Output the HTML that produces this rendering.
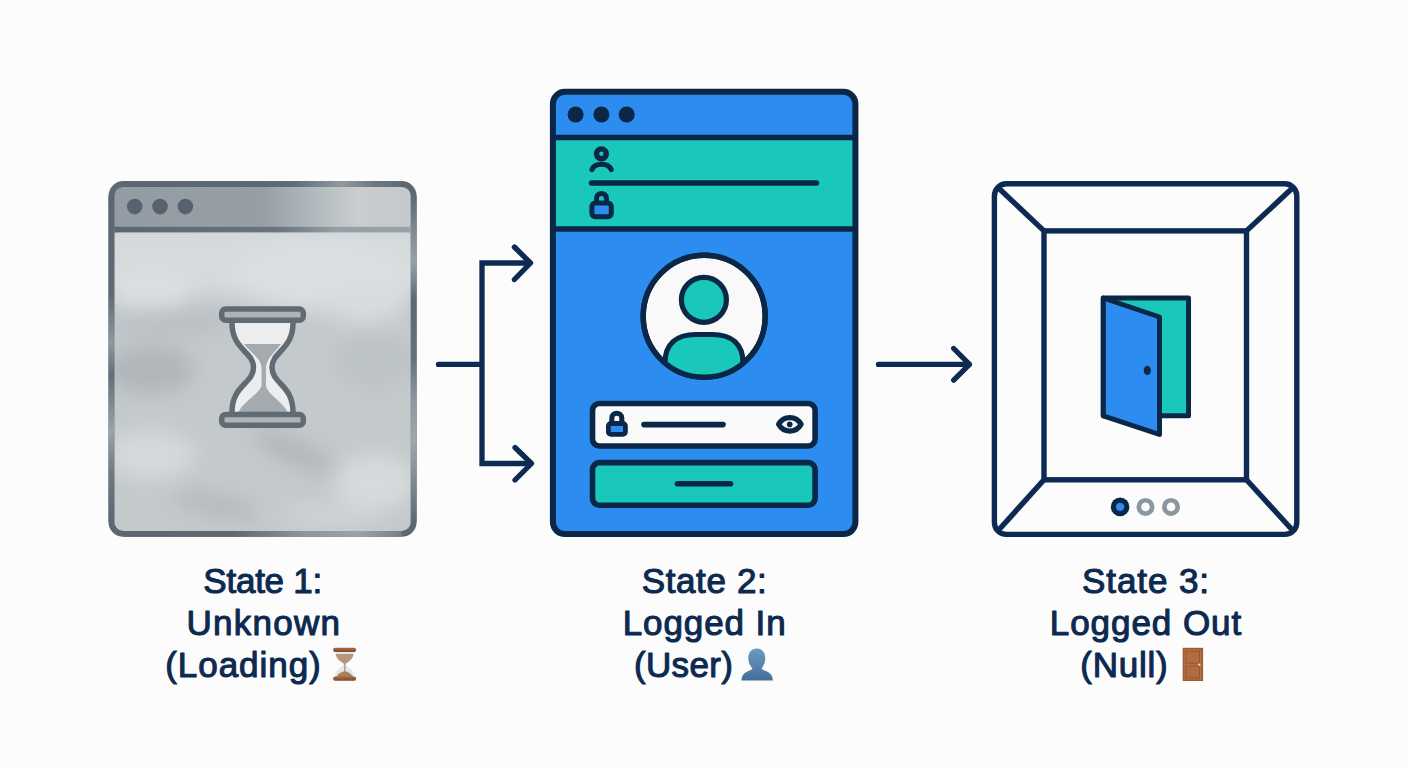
<!DOCTYPE html>
<html><head><meta charset="utf-8">
<style>
html,body{margin:0;padding:0;background:#fcfcfc;width:1408px;height:768px;overflow:hidden}
svg{display:block}
text{font-family:"Liberation Sans",sans-serif}
</style></head>
<body>
<svg width="1408" height="768" viewBox="0 0 1408 768">
<defs>
  <linearGradient id="gHead" x1="0" y1="0" x2="1" y2="0">
    <stop offset="0" stop-color="#939ca2"/>
    <stop offset="0.5" stop-color="#979fa5"/>
    <stop offset="0.7" stop-color="#b7bec2"/>
    <stop offset="0.82" stop-color="#c8cdd0"/>
    <stop offset="1" stop-color="#c3c9cc"/>
  </linearGradient>
  <linearGradient id="gBody" x1="0" y1="0" x2="0" y2="1">
    <stop offset="0" stop-color="#d2d6d8"/>
    <stop offset="0.5" stop-color="#c2c7ca"/>
    <stop offset="1" stop-color="#c6cbce"/>
  </linearGradient>
  <linearGradient id="gBorder" x1="0" y1="0" x2="1" y2="1">
    <stop offset="0" stop-color="#5a6570"/>
    <stop offset="0.3" stop-color="#65707a"/>
    <stop offset="0.45" stop-color="#8a949b"/>
    <stop offset="0.55" stop-color="#5f6a74"/>
    <stop offset="1" stop-color="#5d6873"/>
  </linearGradient>
  <linearGradient id="gDiv" x1="0" y1="0" x2="1" y2="0">
    <stop offset="0" stop-color="#5b6671"/>
    <stop offset="0.55" stop-color="#6a747d"/>
    <stop offset="0.75" stop-color="#97a0a6"/>
    <stop offset="1" stop-color="#9aa3a9"/>
  </linearGradient>
  <linearGradient id="gRB" gradientUnits="userSpaceOnUse" x1="0" y1="196" x2="0" y2="522">
    <stop offset="0" stop-color="#5e6973"/>
    <stop offset="0.1" stop-color="#7d878f"/>
    <stop offset="0.2" stop-color="#98a1a7"/>
    <stop offset="0.32" stop-color="#5d6873"/>
    <stop offset="0.5" stop-color="#66717a"/>
    <stop offset="0.62" stop-color="#8c959c"/>
    <stop offset="0.75" stop-color="#a0a8ae"/>
    <stop offset="0.88" stop-color="#7f8990"/>
    <stop offset="1" stop-color="#5e6973"/>
  </linearGradient>
  <linearGradient id="gLB" gradientUnits="userSpaceOnUse" x1="0" y1="196" x2="0" y2="522">
    <stop offset="0" stop-color="#5b6671"/>
    <stop offset="0.3" stop-color="#5f6a74"/>
    <stop offset="0.45" stop-color="#8e979e"/>
    <stop offset="0.55" stop-color="#636e78"/>
    <stop offset="0.72" stop-color="#9aa3a9"/>
    <stop offset="0.85" stop-color="#6f7982"/>
    <stop offset="1" stop-color="#5b6671"/>
  </linearGradient>
  <linearGradient id="gTB" gradientUnits="userSpaceOnUse" x1="123.4" y1="0" x2="401.7" y2="0">
    <stop offset="0" stop-color="#5b6671"/>
    <stop offset="0.6" stop-color="#5f6a74"/>
    <stop offset="0.78" stop-color="#8f989f"/>
    <stop offset="0.9" stop-color="#6f7982"/>
    <stop offset="1" stop-color="#5f6a74"/>
  </linearGradient>
  <linearGradient id="gBB" gradientUnits="userSpaceOnUse" x1="123.4" y1="0" x2="401.7" y2="0">
    <stop offset="0" stop-color="#5b6671"/>
    <stop offset="0.4" stop-color="#5e6973"/>
    <stop offset="0.65" stop-color="#8d969d"/>
    <stop offset="0.85" stop-color="#9aa3a9"/>
    <stop offset="1" stop-color="#76808a"/>
  </linearGradient>
  <filter id="blur12" x="-50%" y="-50%" width="200%" height="200%"><feGaussianBlur stdDeviation="10"/></filter>
  <clipPath id="c1body"><rect x="114" y="232" width="297" height="299" rx="6"/></clipPath>
  <clipPath id="avClip"><circle cx="704.2" cy="316.2" r="60"/></clipPath>
</defs>

<!-- ============ CARD 1 (gray) ============ -->
<rect x="111.4" y="184" width="302.3" height="349.9" rx="12" fill="#c4c9cc"/>
<g clip-path="url(#c1body)">
 <g filter="url(#blur12)">
  <rect x="100" y="225" width="330" height="70" fill="#d6dadc"/>
  <ellipse cx="320" cy="275" rx="90" ry="35" fill="#dbdfe1"/>
  <ellipse cx="150" cy="290" rx="40" ry="22" fill="#dcdfe1"/>
  <ellipse cx="365" cy="305" rx="40" ry="18" fill="#d8dcde"/>
  <ellipse cx="170" cy="322" rx="60" ry="14" fill="#b9bfc3"/>
  <ellipse cx="150" cy="370" rx="45" ry="24" fill="#b0b6ba"/>
  <ellipse cx="375" cy="360" rx="40" ry="28" fill="#bcc2c5"/>
  <ellipse cx="150" cy="455" rx="45" ry="24" fill="#d5d9db"/>
  <ellipse cx="375" cy="482" rx="40" ry="28" fill="#d6dadc"/>
  <ellipse cx="295" cy="452" rx="45" ry="12" fill="#b0b6ba" transform="rotate(25 295 452)"/>
  <ellipse cx="215" cy="505" rx="45" ry="11" fill="#b3b9bd" transform="rotate(12 215 505)"/>
  <ellipse cx="330" cy="515" rx="50" ry="12" fill="#cfd3d6"/>
 </g>
</g>
<rect x="113" y="186" width="299" height="43" fill="url(#gHead)"/>
<rect x="111.4" y="184" width="302.3" height="349.9" rx="12" fill="none" stroke="#5d6873" stroke-width="5.8"/>
<line x1="413.7" y1="196" x2="413.7" y2="522" stroke="url(#gRB)" stroke-width="5.8"/>
<line x1="111.4" y1="196" x2="111.4" y2="522" stroke="url(#gLB)" stroke-width="5.8"/>
<line x1="123.4" y1="184" x2="401.7" y2="184" stroke="url(#gTB)" stroke-width="5.8"/>
<line x1="123.4" y1="533.9" x2="401.7" y2="533.9" stroke="url(#gBB)" stroke-width="5.8"/>
<rect x="114.3" y="226.8" width="296.5" height="5.6" fill="url(#gDiv)"/>
<circle cx="134.7" cy="206.6" r="7.8" fill="#56636e"/>
<circle cx="160" cy="206.6" r="7.8" fill="#56636e"/>
<circle cx="185.4" cy="206.6" r="7.8" fill="#56636e"/>
<!-- hourglass -->
<path d="M232 321 C231 350 253.5 351 253.5 367.5 C253.5 384 231 385 232 414 L293 414 C294 385 272 384 272 367.5 C272 351 294 350 293 321 Z" fill="#ebedee"/>
<path d="M244 344 H281 C275 352 267 358 266 367 V386 C268 395 282 401 287.5 412 H238.5 C244 401 258 395 261.5 386 V367 C260.5 358 250 352 244 344 Z" fill="#a4aaae"/>
<g stroke="#616b74" stroke-width="5.5" stroke-linejoin="round" fill="none">
  <path d="M232 321 C231 350 253.5 351 253.5 367.5 C253.5 384 231 385 232 414 M293 414 C294 385 272 384 272 367.5 C272 351 294 350 293 321"/>
  <rect x="221.7" y="309" width="81.6" height="11.2" rx="4" fill="#aeb4b8"/>
  <rect x="221.7" y="414.5" width="81.6" height="10.8" rx="4" fill="#aeb4b8"/>
</g>

<!-- ============ CARD 2 (blue) ============ -->
<rect x="552.9" y="91.8" width="302.5" height="442.3" rx="12" fill="#2c8cf0"/>
<rect x="555" y="139" width="298" height="88" fill="#19c8bb"/>
<rect x="552.9" y="91.8" width="302.5" height="442.3" rx="12" fill="none" stroke="#0b2748" stroke-width="6"/>
<line x1="552.9" y1="137.5" x2="855.4" y2="137.5" stroke="#0b2748" stroke-width="5.5"/>
<line x1="552.9" y1="229" x2="855.4" y2="229" stroke="#0b2748" stroke-width="5.5"/>
<circle cx="575.6" cy="114.5" r="8" fill="#0b2748"/>
<circle cx="601.4" cy="114.5" r="8" fill="#0b2748"/>
<circle cx="626.7" cy="114.5" r="8" fill="#0b2748"/>
<!-- small user icon -->
<g fill="none" stroke="#0b2748" stroke-linecap="round">
  <circle cx="601.4" cy="153.8" r="4.9" stroke-width="5.4"/>
  <path d="M591.9 169.6 C594.5 162.3 608.5 162.3 611.2 169.6" stroke-width="5"/>
</g>
<line x1="591.5" y1="183" x2="816.5" y2="183" stroke="#0b2748" stroke-width="5.5" stroke-linecap="round"/>
<!-- small lock -->
<g stroke="#0b2748" stroke-width="5" stroke-linejoin="round">
  <path d="M596.5 203 V198.5 C596.5 191.8 606.5 191.8 606.5 198.5 V203" fill="none"/>
  <rect x="591.9" y="202.9" width="19.4" height="13.8" rx="3.5" fill="#2c8cf0"/>
</g>
<!-- avatar -->
<circle cx="704.2" cy="316.2" r="61" fill="#f9f9f9" stroke="#0b2748" stroke-width="5.4"/>
<g clip-path="url(#avClip)">
  <path d="M665 400 V363 C665 344 676 334.5 696 334.5 H712 C732 334.5 743 344 743 363 V400 Z" fill="#19c8bb" stroke="#0b2748" stroke-width="5.2"/>
</g>
<circle cx="704.2" cy="316.2" r="61" fill="none" stroke="#0b2748" stroke-width="5.4"/>
<circle cx="703.9" cy="299.8" r="22.5" fill="#19c8bb" stroke="#0b2748" stroke-width="5.2"/>
<!-- password field -->
<rect x="592.5" y="403.5" width="222.6" height="42.5" rx="7" fill="#fafafa" stroke="#0b2748" stroke-width="5.6"/>
<g stroke="#0b2748" stroke-width="4" stroke-linejoin="round">
  <path d="M611.8 423 V418 C611.8 411.8 621.8 411.8 621.8 418 V423" fill="none" stroke-width="5"/>
  <rect x="608.4" y="423.5" width="17" height="10.9" rx="2.5" fill="#2c8cf0" stroke-width="4.8"/>
</g>
<line x1="644" y1="424.6" x2="723" y2="424.6" stroke="#0b2748" stroke-width="5.6" stroke-linecap="round"/>
<path d="M778.6 424.3 C783.5 415.3 796.2 415.3 801.1 424.3 C796.2 433.3 783.5 433.3 778.6 424.3 Z" fill="#fafafa" stroke="#0b2748" stroke-width="5.3" stroke-linejoin="round"/>
<circle cx="789.7" cy="424.4" r="2.8" fill="#0b2748"/>
<!-- button -->
<rect x="592.5" y="462.6" width="222.6" height="42.6" rx="7" fill="#19c8bb" stroke="#0b2748" stroke-width="5.6"/>
<line x1="677.5" y1="483.7" x2="730.5" y2="483.7" stroke="#0b2748" stroke-width="5.6" stroke-linecap="round"/>

<!-- ============ CARD 3 (outline) ============ -->
<g fill="none" stroke="#0c2a52" stroke-width="5.4">
  <rect x="994.4" y="183.8" width="302.4" height="350.6" rx="12"/>
  <rect x="1044" y="230.9" width="202.5" height="248.9"/>
  <line x1="998" y1="187.5" x2="1044" y2="230.9"/>
  <line x1="1293" y1="187.5" x2="1246.5" y2="230.9"/>
  <line x1="998" y1="530.8" x2="1044" y2="479.8"/>
  <line x1="1293" y1="530.8" x2="1246.5" y2="479.8"/>
</g>
<!-- door -->
<g stroke="#0b2748" stroke-width="5" stroke-linejoin="round">
  <rect x="1103.3" y="297.9" width="85.2" height="117.9" fill="#19c8bb"/>
  <path d="M1103.3 298 L1159.5 317 L1159.5 434.5 L1103.3 415.8 Z" fill="#2c8cf0"/>
</g>
<ellipse cx="1147.3" cy="370.4" rx="3.6" ry="4.6" fill="#0b2748"/>
<circle cx="1120.1" cy="506.9" r="9.3" fill="#0b2748"/>
<circle cx="1120.1" cy="506.9" r="4.2" fill="#2c8cf0"/>
<circle cx="1145.5" cy="506.9" r="6.65" fill="none" stroke="#8a97a1" stroke-width="4.7"/>
<circle cx="1171" cy="506.9" r="6.65" fill="none" stroke="#8a97a1" stroke-width="4.7"/>

<!-- ============ ARROWS ============ -->
<g fill="none" stroke="#0c2a52" stroke-width="5.3" stroke-linecap="round" stroke-linejoin="round">
  <path d="M438.5 364.4 H480" />
  <path d="M530 263 H482 V463.5 H531" stroke-linejoin="miter" stroke-linecap="butt"/>
  <path d="M514.4 247 L530.5 263 L514.4 279.5"/>
  <path d="M515 447.5 L531.5 463.5 L515 480"/>
  <path d="M878.5 364.4 H969"/>
  <path d="M953.7 348.5 L969.5 364.4 L953.7 380.2"/>
</g>

<!-- ============ LABELS ============ -->
<g fill="#0c2a50" stroke="#0c2a50" stroke-width="1.1" stroke-linejoin="round" font-size="35" text-anchor="middle" lengthAdjust="spacing">
  <text x="262.8" y="593.1" textLength="119">State 1:</text>
  <text x="263.2" y="634.7" textLength="153.5">Unknown</text>
  <text x="243" y="676.6" textLength="155.5">(Loading)</text>
  <text x="704.2" y="593.1" textLength="125">State 2:</text>
  <text x="704.2" y="634.7" textLength="163">Logged In</text>
  <text x="683.4" y="676.6" textLength="99">(User)</text>
  <text x="1145.6" y="593.1" textLength="127">State 3:</text>
  <text x="1145.5" y="634.7" textLength="191.5">Logged Out</text>
  <text x="1124" y="676.6" textLength="87.5">(Null)</text>
</g>
<!-- emoji hourglass -->
<defs><linearGradient id="gCap" x1="0" y1="0" x2="0" y2="1"><stop offset="0" stop-color="#a46d45"/><stop offset="1" stop-color="#7e4a2a"/></linearGradient></defs>
<g>
  <path d="M335.3 651.5 C334.3 659 341 662 344 664.8 C341 667.5 334.3 670.5 335.3 677 L354 677 C355 670.5 348.5 667.5 345.5 664.8 C348.5 662 355 659 354 651.5 Z" fill="#e3e6ea"/>
  <path d="M336 654 H353.3 C353.3 659 348.3 661.5 344.8 664.3 C341.3 661.5 336 659 336 654 Z" fill="#b59676"/>
  <rect x="344.2" y="664" width="1.2" height="8" fill="#b08f70"/>
  <path d="M336.3 677 C338 673.5 342 671.8 344.8 671.3 C347.5 671.8 351.5 673.5 353.2 677 Z" fill="#a98058"/>
  <rect x="333.1" y="647.8" width="23" height="4.2" rx="2" fill="url(#gCap)"/>
  <rect x="333.1" y="676.6" width="23" height="4.2" rx="2" fill="url(#gCap)"/>
</g>
<!-- emoji user -->
<defs><linearGradient id="gUser" x1="0" y1="0" x2="0" y2="1"><stop offset="0" stop-color="#6e9bc2"/><stop offset="1" stop-color="#436f98"/></linearGradient></defs>
<path d="M756.8 648.5 C762 648.5 765.3 652.5 765.3 658 C765.3 663 763 666.5 761.5 668.5 C762.5 670 765 670.8 767.5 671.8 C771 673.3 772.8 676.5 772.8 680.4 L741.5 680.4 C741.5 676.5 743.3 673.3 746.8 671.8 C749.3 670.8 751.5 670 752.5 668.5 C750.8 666.5 748.3 663 748.3 658 C748.3 652.5 751.6 648.5 756.8 648.5 Z" fill="url(#gUser)"/>
<!-- emoji door -->
<g>
  <rect x="1182.7" y="647.8" width="20.4" height="33.2" fill="#9a5a34"/>
  <rect x="1184.2" y="649.3" width="17.4" height="30.2" fill="#b56f43"/>
  <rect x="1186" y="651.2" width="13.6" height="12" fill="#b26c40" stroke="#8d5230" stroke-width="0.8"/>
  <rect x="1186" y="666" width="13.6" height="11.8" fill="#b26c40" stroke="#8d5230" stroke-width="0.8"/>
  <circle cx="1199.2" cy="664.6" r="1.2" fill="#e8dfc8"/>
</g>
</svg>
</body></html>
